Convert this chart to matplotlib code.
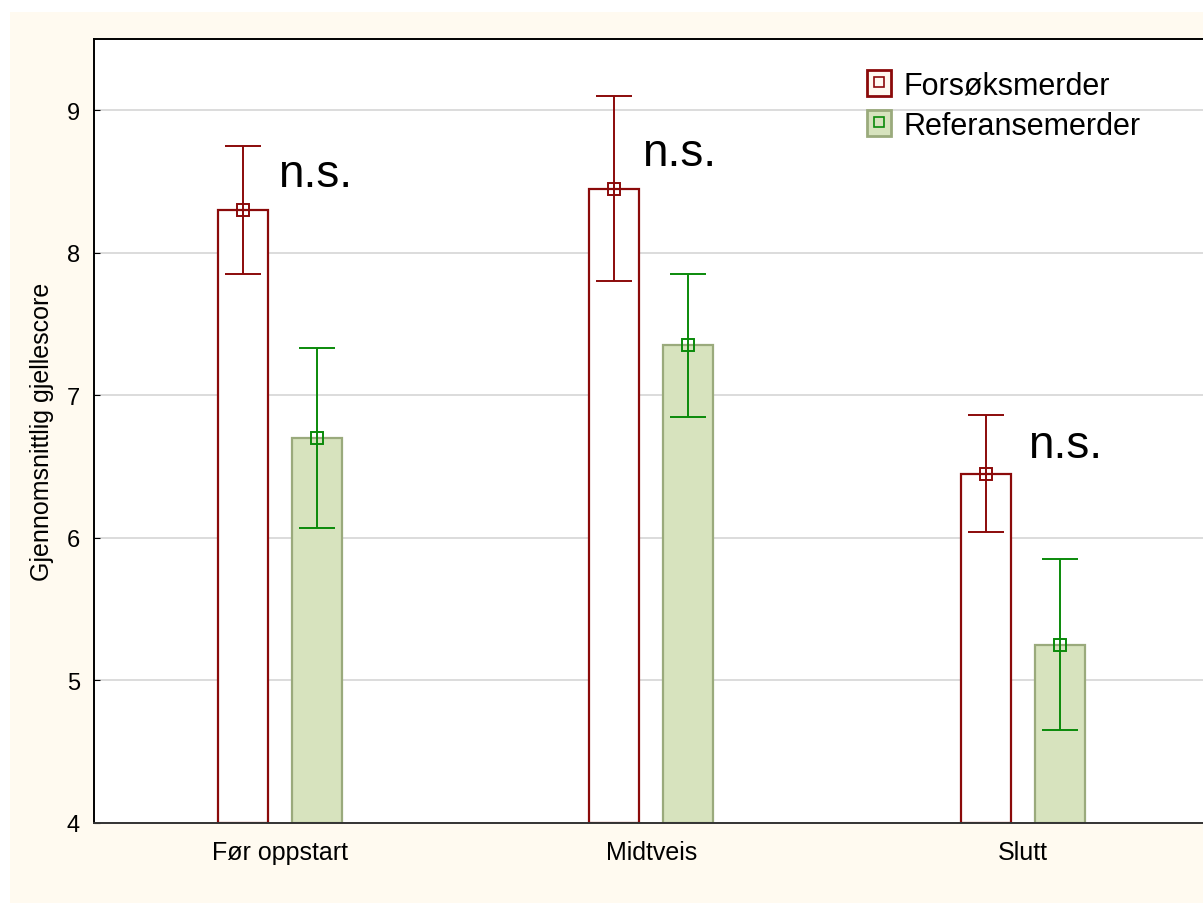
import numpy as np
import matplotlib
matplotlib.use("Agg")
import matplotlib.pyplot as plt
from matplotlib.patches import Patch, Rectangle
from matplotlib.lines import Line2D

plt.rcParams['font.family'] = ['Liberation Sans', 'DejaVu Sans']

# mean gill score with 95% confidence half-widths
categories = ['Før oppstart', 'Midtveis', 'Slutt']
forsok_mean = [8.30, 8.45, 6.45]
forsok_err = [0.45, 0.65, 0.41]
referanse_mean = [6.70, 7.35, 5.25]
referanse_err = [0.63, 0.50, 0.60]
ns_labels = ['n.s.', 'n.s.', 'n.s.']
ns_pos = [(0.095, 8.55), (1.075, 8.70), (2.115, 6.65)]

red = '#8B0A0A'
green = '#0A8A0A'
green_fill = '#D7E3BE'
green_edge = '#9AAA7C'

fig = plt.figure(figsize=(12.03, 9.04), dpi=100)
fig.patch.set_facecolor('white')
fig.patches.append(Rectangle((10/1203, 0), 1, 1 - 13/904, transform=fig.transFigure,
                             facecolor='#FFFAF0', edgecolor='none', zorder=-10))

ax = fig.add_axes([94/1203, 80/904, 1114.5/1203, 784/904])
ax.set_facecolor('white')

x = np.arange(len(categories))
w = 0.135
off = 0.1

ax.bar(x - off, np.array(forsok_mean) - 4, w, bottom=4, facecolor='white',
       edgecolor=red, linewidth=1.6, zorder=2)
ax.bar(x + off, np.array(referanse_mean) - 4, w, bottom=4, facecolor=green_fill,
       edgecolor=green_edge, linewidth=1.6, zorder=2)

ax.errorbar(x - off, forsok_mean, yerr=forsok_err, fmt='s', color=red,
            mfc='none', mec=red, ms=9, mew=1.4, elinewidth=1.4, capsize=13,
            capthick=1.4, zorder=3)
ax.errorbar(x + off, referanse_mean, yerr=referanse_err, fmt='s', color=green,
            mfc='none', mec=green, ms=9, mew=1.4, elinewidth=1.4, capsize=13,
            capthick=1.4, zorder=3)

for (tx, ty), s in zip(ns_pos, ns_labels):
    ax.text(tx, ty, s, fontsize=33, ha='center', va='center', zorder=4)

ax.set_xlim(-0.5, 2.5)
ax.set_ylim(4, 9.5)
ax.set_yticks([4, 5, 6, 7, 8, 9])
ax.set_xticks(x)
ax.set_xticklabels(categories)
ax.tick_params(axis='y', direction='in', length=4, labelsize=17, pad=10)
ax.tick_params(axis='x', length=0, labelsize=18, pad=12)
ax.yaxis.grid(True, color='#D9D9D9', linewidth=1.3, zorder=0)
ax.set_axisbelow(True)
ax.set_ylabel('Gjennomsnittlig gjellescore', fontsize=18, labelpad=9)
for side in ['top', 'left', 'bottom', 'right']:
    ax.spines[side].set_linewidth(1.4)
ax.spines['bottom'].set_color('#333333')

h1 = (Patch(facecolor='#FFFAF0', edgecolor=red, linewidth=2),
      Line2D([], [], marker='s', ls='none', mfc='none', mec=red, ms=7, mew=1.2))
h2 = (Patch(facecolor=green_fill, edgecolor=green_edge, linewidth=2),
      Line2D([], [], marker='s', ls='none', mfc='none', mec=green, ms=7, mew=1.2))
fig.legend([h1, h2], ['Forsøksmerder', 'Referansemerder'], loc='upper left',
           bbox_to_anchor=(867/1203, 1 - 71/904), frameon=False, fontsize=22,
           handlelength=0.8, handleheight=0.95, handletextpad=0.4,
           labelspacing=0.3, borderpad=0, borderaxespad=0)

fig.savefig('out.png', dpi=100)
